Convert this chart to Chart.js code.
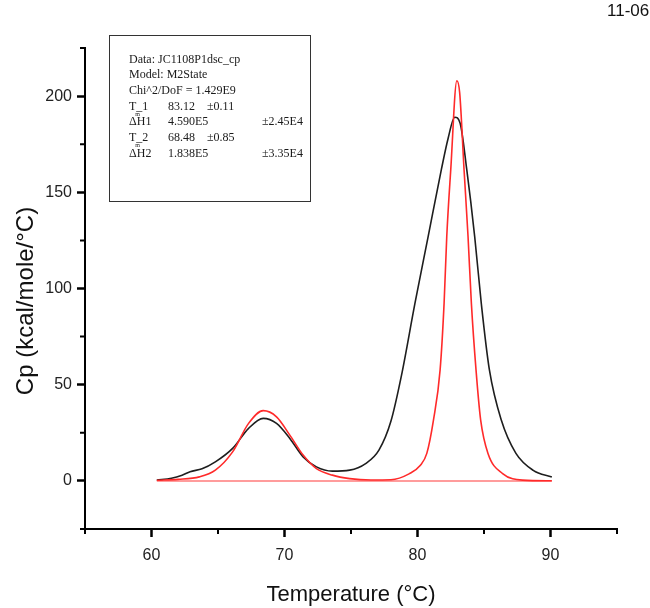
<!DOCTYPE html>
<html>
<head>
<meta charset="utf-8">
<script src="https://cdn.jsdelivr.net/npm/chart.js@4.4.0/dist/chart.umd.min.js"></script>
<style>
  html, body { margin: 0; padding: 0; background: #fff; }
  #wrap { width: 650px; height: 608px; }
</style>
</head>
<body>
<div id="wrap"><canvas id="dscChart" width="650" height="608"></canvas></div>
<script>
// DSC thermogram: measured Cp (black) and two-state fit (red)

// measured data
const blackT  = [60.4, 61.5, 62.3, 62.9, 63.8, 64.8, 66.1, 67.3, 68.4, 69.4, 70.4, 71.4, 72.4, 73.6, 74.9, 76.1, 77.1, 78.0, 78.8, 79.8, 80.8, 81.8, 82.3, 82.8, 83.2, 83.7, 84.3, 84.8, 85.4, 86.3, 87.4, 88.7, 90.1];
const blackCp = [0.4, 1.4, 3.0, 4.8, 6.3, 9.9, 16.9, 27.3, 32.5, 29.9, 22.1, 12.5, 7.3, 5.1, 5.6, 9.0, 16.0, 31.0, 55.0, 92.0, 127.0, 162.0, 178.0, 189.0, 186.0, 162.0, 127.0, 92.0, 58.0, 31.6, 14.3, 5.5, 2.0];

// fit (M2State)
const redT  = [60.4, 62.0, 63.6, 64.8, 66.1, 67.3, 68.4, 69.4, 70.4, 71.4, 72.4, 73.6, 74.9, 76.5, 78.0, 79.4, 80.2, 80.7, 81.2, 81.7, 82.0, 82.2, 82.5, 82.96, 83.17, 83.5, 83.8, 84.05, 84.4, 84.75, 85.3, 86.4, 87.9, 90.1];
const redCp = [0.3, 0.8, 2.1, 5.6, 15.1, 29.9, 36.5, 33.3, 23.8, 13.4, 6.4, 3.0, 1.2, 0.5, 0.6, 3.8, 8.0, 14.3, 31.6, 57.7, 92.4, 127, 161.8, 208, 201.8, 161.8, 127, 92.4, 57.7, 31.6, 14.3, 3.8, 0.4, 0.1];

// baseline
const baseT  = [60.4, 90.1];
const baseCp = [0, 0];

// ticks
const xTicks = [60, 70, 80, 90];
const xMinor = [55, 65, 75, 85, 95];
const yTicks = [0, 50, 100, 150, 200];
const yMinor = [-25, 25, 75, 125, 175, 225];

const yTitle = 'Cp (kcal/mole/\u00b0C)';

// fit parameters box
const infoLines = [
    ['Data: JC1108P1dsc_cp'],
    ['Model: M2State'],
    ['Chi^2/DoF = 1.429E9'],
    ['T_1', '83.12', '\u00b10.11', ''],
    ['\u0394H1', '4.590E5', '', '\u00b12.45E4'],
    ['T_2', '68.48', '\u00b10.85', ''],
    ['\u0394H2', '1.838E5', '', '\u00b13.35E4']
];

function toPoints(xs, ys) {
    return xs.map((x, i) => ({ x: x, y: ys[i] }));
}

// small ticks between the labelled ones
const minorTicks = {
    id: 'minorTicks',
    afterDraw(chart) {
        const ctx = chart.ctx;
        const xs = chart.scales.x, ys = chart.scales.y;
        ctx.save();
        ctx.strokeStyle = '#000';
        ctx.lineWidth = 2;
        ctx.beginPath();
        xMinor.forEach(v => {
            const px = xs.getPixelForValue(v);
            ctx.moveTo(px, ys.bottom);
            ctx.lineTo(px, ys.bottom + 5);
        });
        yMinor.forEach(v => {
            const py = ys.getPixelForValue(v);
            ctx.moveTo(xs.left, py);
            ctx.lineTo(xs.left - 5, py);
        });
        ctx.stroke();
        ctx.restore();
    }
};

// y title, text box in the top-left + page label
const infoBox = {
    id: 'infoBox',
    afterDraw(chart) {
        const ctx = chart.ctx;
        ctx.save();

        // y axis title (sits a bit below the axis centre in the original)
        ctx.save();
        ctx.translate(26, 301);
        ctx.rotate(-Math.PI / 2);
        ctx.font = '24px "Liberation Sans", Arial, sans-serif';
        ctx.fillStyle = '#111';
        ctx.textAlign = 'center';
        ctx.textBaseline = 'middle';
        ctx.fillText(yTitle, 0, 0);
        ctx.restore();

        ctx.strokeStyle = '#333';
        ctx.lineWidth = 1;
        ctx.strokeRect(109.5, 35.5, 201, 166);

        ctx.fillStyle = '#1a1a1a';
        ctx.font = '12px "Liberation Serif", "Times New Roman", serif';
        ctx.textBaseline = 'alphabetic';
        const cols = [129, 168, 207, 262];
        infoLines.forEach((row, i) => {
            const y = 62.5 + i * 15.7;
            row.forEach((txt, j) => {
                if (txt) ctx.fillText(txt, cols[j], y);
            });
            if (row[0].startsWith('T_')) {
                const w = ctx.measureText('T').width;
                ctx.save();
                ctx.font = '6px "Liberation Serif", serif';
                ctx.fillText('m', cols[0] + w - 1, y + 6);
                ctx.restore();
            }
        });

        ctx.font = '17px "Liberation Sans", Arial, sans-serif';
        ctx.fillStyle = '#111';
        ctx.fillText('11-06', 607, 16);
        ctx.restore();
    }
};

const ctx = document.getElementById('dscChart').getContext('2d');

new Chart(ctx, {
    type: 'line',
    data: {
        datasets: [{
            label: 'fit',
            data: toPoints(redT, redCp),
            borderColor: '#ff2a2a',
            borderWidth: 1.6,
            pointRadius: 0,
            cubicInterpolationMode: 'monotone',
            fill: false
        }, {
            label: 'data',
            data: toPoints(blackT, blackCp),
            borderColor: '#1e1e1e',
            borderWidth: 1.6,
            pointRadius: 0,
            cubicInterpolationMode: 'monotone',
            fill: false
        }, {
            label: 'baseline',
            data: toPoints(baseT, baseCp),
            borderColor: 'rgba(255, 90, 90, 0.6)',
            borderWidth: 2,
            pointRadius: 0,
            fill: false
        }]
    },
    options: {
        responsive: false,
        animation: false,
        layout: {
            padding: { left: 0, top: 48, right: 33, bottom: 0 }
        },
        plugins: {
            legend: { display: false },
            tooltip: { enabled: false }
        },
        scales: {
            x: {
                type: 'linear',
                min: 55,
                max: 95,
                afterBuildTicks: s => { s.ticks = xTicks.map(v => ({ value: v })); },
                afterFit: s => { s.height = 79; },
                grid: {
                    drawOnChartArea: false,
                    drawTicks: true,
                    tickLength: 8,
                    tickColor: '#000',
                    tickWidth: 2.5
                },
                border: { display: true, color: '#000', width: 2 },
                ticks: {
                    padding: 9,
                    color: '#222',
                    font: { family: '"Liberation Sans", Arial, sans-serif', size: 16 }
                },
                title: {
                    display: true,
                    text: 'Temperature (\u00b0C)',
                    color: '#111',
                    padding: { top: 0, bottom: 0 },
                    font: { family: '"Liberation Sans", Arial, sans-serif', size: 22 }
                }
            },
            y: {
                type: 'linear',
                min: -25,
                max: 225,
                afterBuildTicks: s => { s.ticks = yTicks.map(v => ({ value: v })); },
                afterFit: s => { s.width = 85; },
                grid: {
                    drawOnChartArea: false,
                    drawTicks: true,
                    tickLength: 8,
                    tickColor: '#000',
                    tickWidth: 2.5
                },
                border: { display: true, color: '#000', width: 2 },
                ticks: {
                    padding: 5,
                    color: '#222',
                    font: { family: '"Liberation Sans", Arial, sans-serif', size: 16 }
                },
                title: { display: false }
            }
        }
    },
    plugins: [minorTicks, infoBox]
});
</script>
</body>
</html>
